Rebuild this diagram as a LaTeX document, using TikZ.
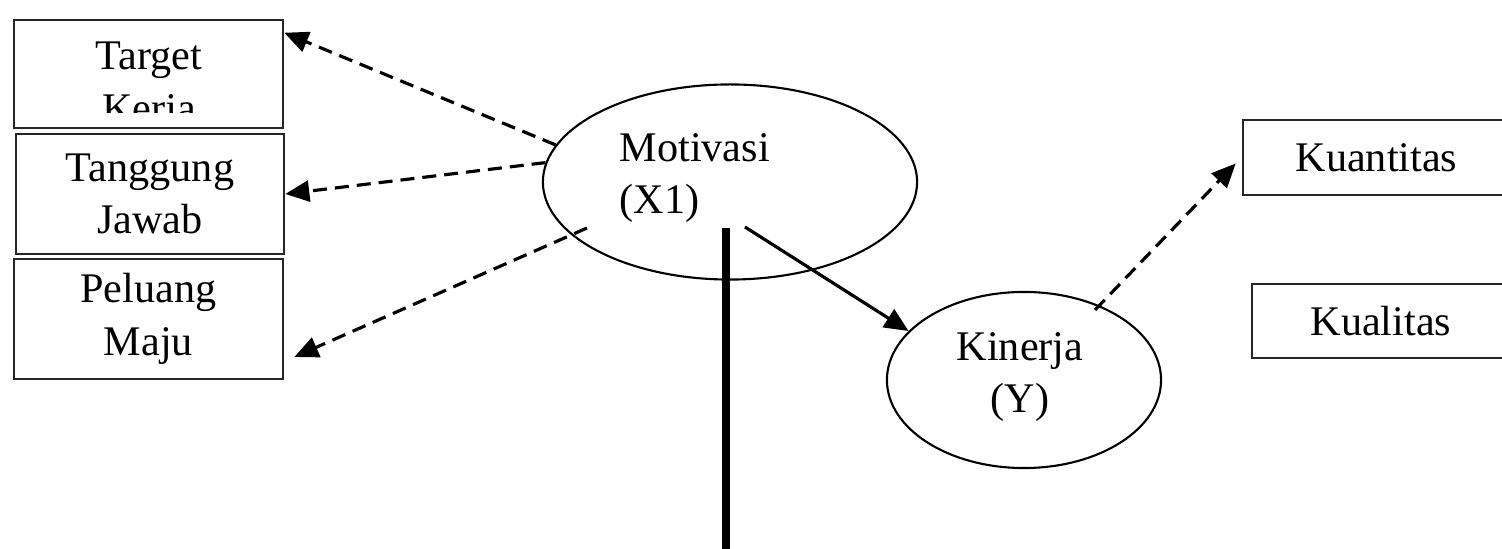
\documentclass[tikz,border=0pt]{standalone}
\usepackage{fontspec}
\setmainfont{Liberation Serif}
\usetikzlibrary{arrows.meta,shapes.geometric}

\begin{document}
\begin{tikzpicture}[
  x=0.01cm, y=-0.01cm,
  % ── node styles ──────────────────────────────────────────
  indikator/.style={
    draw=black!85, line width=0.7pt, rectangle,
    inner sep=0pt, align=center,
    font=\fontsize{12}{15}\selectfont
  },
  konstruk/.style={draw=black, line width=0.6pt, ellipse, inner sep=0pt},
  teks/.style={font=\fontsize{12}{15}\selectfont, inner sep=0pt},
  % ── arrow styles ─────────────────────────────────────────
  arr/.style={-{Triangle[length=2.4mm,width=2.1mm]}, line width=0.9pt},
  darr/.style={arr, dash pattern=on 1.4mm off 0.8mm},
  tiang/.style={line width=2.5pt}
]
\useasboundingbox (0,0) rectangle (1502,549);

%% ── Indikator motivasi ──
\node[indikator, minimum width=2.69cm, minimum height=1.08cm] (TK) at (148.5,74) {};
\begin{scope}
  \clip (14,20) rectangle (283,113);
  \node[teks, align=center] (TKteks) at (149,87) {Target\\Kerja};
\end{scope}
\node[indikator, minimum width=2.68cm, minimum height=1.20cm] (TJ) at (150,194) {Tanggung\\Jawab};
\node[indikator, minimum width=2.69cm, minimum height=1.20cm] (PM) at (148.5,319) {Peluang\\Maju};

%% ── Variabel laten ──
\node[konstruk, minimum width=3.74cm, minimum height=1.95cm] (MOT) at (730,182) {};
\node[teks, align=left, anchor=west] (MOTteks) at (619,178) {Motivasi\\(X1)};
\node[konstruk, minimum width=2.74cm, minimum height=1.76cm] (KIN) at (1024,380) {};
\node[teks, align=center] (KINteks) at (1020,377) {Kinerja\\(Y)};

%% ── Indikator kinerja ──
\node[indikator, minimum width=2.67cm, minimum height=0.75cm] (KUAN) at (1376.5,157.5) {Kuantitas};
\node[indikator, minimum width=2.58cm, minimum height=0.74cm] (KUAL) at (1381,321) {Kualitas};

%% ── Garis tebal ──
\coordinate (dasar) at (726,549);
\draw[tiang] ([shift={(-4,46)}]MOT.center) -- (dasar);

%% ── Edges: motivasi → indikator ──
\draw[darr] (MOT.168) -- ([yshift=-0.14cm]TK.north east);
\draw[darr] (MOT.174) -- (TJ.east);
\draw[darr] ([shift={(-143,46)}]MOT.center) -- ([shift={(10,38)}]PM.east);

%% ── Edges: motivasi → kinerja → indikator ──
\draw[arr] ([shift={(15,45)}]MOT.center) -- (KIN.157);
\draw[darr] ([shift={(71,-70)}]KIN.center) -- ([shift={(-6,6)}]KUAN.west);

\end{tikzpicture}
\end{document}
